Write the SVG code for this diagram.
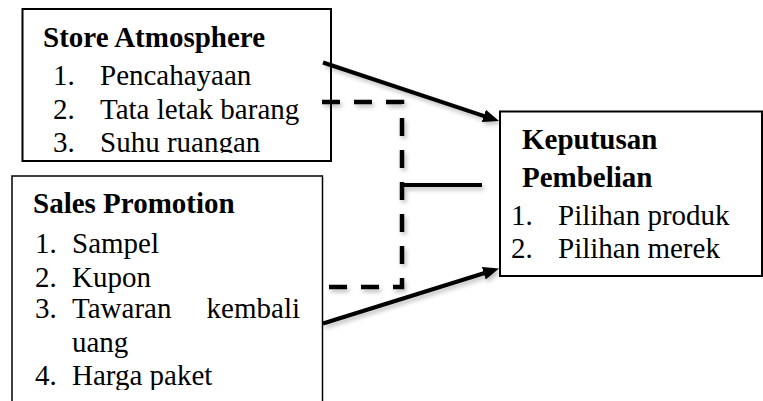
<svg xmlns="http://www.w3.org/2000/svg" width="763" height="401" viewBox="0 0 763 401">
<style>
  .box { fill: #fff; stroke: #000; stroke-width: 2; }
  .t { font-family: 'Liberation Serif', 'DejaVu Serif', serif; font-size: 29px; fill: #000; }
  .b { font-weight: bold; }
  .line { fill: none; stroke: #000; stroke-width: 4; }
  .dash { fill: none; stroke: #000; stroke-width: 4.5; stroke-dasharray: 18 14; }
</style>
<defs>
  <marker id="arrow" markerUnits="userSpaceOnUse" markerWidth="16" markerHeight="13" viewBox="0 0 16 13" refX="6" refY="6.5" orient="auto">
    <path d="M0,0 L16,6.5 L0,13 z" fill="#000"/>
  </marker>
  <filter id="shadow" x="-10%" y="-10%" width="130%" height="130%">
    <feDropShadow dx="2" dy="3" stdDeviation="2" flood-color="#000" flood-opacity="0.25"/>
  </filter>
  <clipPath id="clip1"><rect x="22" y="9" width="309" height="144"/></clipPath>
  <clipPath id="clip2"><rect x="12" y="176" width="311" height="214"/></clipPath>
</defs>

<g id="store-atmosphere" font-family="Liberation Serif, serif">
  <rect class="box" x="22.5" y="9" width="308.5" height="152"/>
  <g clip-path="url(#clip1)">
    <text class="t b" x="43" y="47">Store Atmosphere</text>
    <text class="t" x="53" y="85">1.</text><text class="t" x="100" y="85">Pencahayaan</text>
    <text class="t" x="53" y="119">2.</text><text class="t" x="100" y="119">Tata letak barang</text>
    <text class="t" x="53" y="152">3.</text><text class="t" x="100" y="152">Suhu ruangan</text>
  </g>
</g>

<g id="sales-promotion" font-family="Liberation Serif, serif">
  <rect class="box" x="12" y="176" width="310.5" height="240" style="stroke-width:1.5"/>
  <g clip-path="url(#clip2)">
    <text class="t b" x="33" y="213">Sales Promotion</text>
    <text class="t" x="35" y="253">1.</text><text class="t" x="72" y="253">Sampel</text>
    <text class="t" x="35" y="287">2.</text><text class="t" x="72" y="287">Kupon</text>
    <text class="t" x="35" y="318">3.</text><text class="t" x="72" y="318">Tawaran</text><text class="t" x="300" y="318" text-anchor="end">kembali</text>
    <text class="t" x="72" y="352">uang</text>
    <text class="t" x="35" y="385">4.</text><text class="t" x="72" y="385">Harga paket</text>
  </g>
</g>

<g id="keputusan-pembelian" font-family="Liberation Serif, serif">
  <rect class="box" x="500" y="111.5" width="262" height="164.5"/>
  <text class="t b" x="522" y="149">Keputusan</text>
  <text class="t b" x="522" y="187">Pembelian</text>
  <text class="t" x="511" y="225">1.</text><text class="t" x="558" y="225">Pilihan produk</text>
  <text class="t" x="511" y="258">2.</text><text class="t" x="558" y="258">Pilihan merek</text>
</g>

<g id="connectors" filter="url(#shadow)">
  <path class="dash" d="M322,102 H402 V287 H323"/>
  <path class="line" d="M402,185 H482"/>
  <path class="line" d="M323,62.5 L489.5,117.8" marker-end="url(#arrow)"/>
  <path class="line" d="M323,323.5 L489.5,271.5" marker-end="url(#arrow)"/>
</g>
</svg>
